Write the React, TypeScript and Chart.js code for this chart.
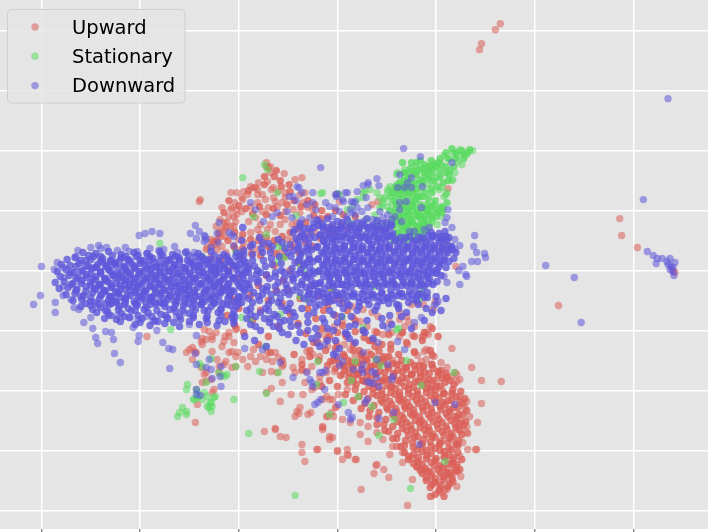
import React, { useEffect, useRef } from "react";
import { Chart, registerables } from "chart.js";

Chart.register(...registerables);

// ---------- series ----------
const SERIES_NAMES = ["Upward", "Stationary", "Downward"];
const SERIES_COLORS = ["#DB5F57", "#57DB5F", "#5F57DB"];
const X_GRID = [0, 100, 200, 300, 400, 500, 600];
const Y_GRID = [-240, -180, -120, -60, 0, 60, 120, 180, 240];
const X_LIMITS = [-42, 675.5];
const Y_LIMITS = [-258.6, 270.7];

// ---------- Upward ----------
const UP_CENTER_TOP: number[][] = [
  [161,71],[183,63],[192,78],[198,78],[205,79],[209,76],[212,84],[217,83],[220,88],[219,81],[224,76],[229,89],[230,103],[232,98],[246,97],[257,91],[264,93],[235,83],[240,79],[247,78],[237,69],[244,68],[247,73],[227,71],[219,68],[212,64],[203,73],[196,68],[192,61],[190,54],[198,56],[203,59],[197,49],[192,44],[185,48],[183,41],[180,36],[176,26],[168,23],[173,28],[182,34],[200,31],[205,28],[212,38],[219,41],[222,36],[229,41],[232,46],[237,39],[242,46],[247,51],[254,46],[259,48],[262,58],[265,68],[262,76],[267,78],[270,63],[275,61],[247,59],[255,61],[239,64],[230,63],[224,59],[217,53],[210,49],[222,46],[172,14],[178,21],[187,18],[197,21],[203,14],[212,24],[219,21],[225,26],[232,21],[239,28],[244,21],[249,31],[255,31],[262,34],[270,36],[277,39],[282,46],
  [228,104],[215,83],[219,76],[233,81],[235,73],[204,71],[193,63],[195,54],[198,61],[181,51],[177,44],[172,31],[172,24],[186,34],[186,41],[195,44],[232,104],[228,108],[160,69],[188,48],[187,44],[180,38],[175,29],[167,21],[172,11],[183,24],
  [335,66],[341,69],[412,82],[406,23],[410,29],[420,4],[299,76],[302,69],[295,44]
];
const UP_CENTER_FILL: number[][] = [
  [236,94],[242,90],[251,86],[226,94],[238,100],
  [200,65],[207,62],[214,57],[221,64],[228,56],[235,62],[242,55],[249,66],[256,70],[263,64],[270,70],[277,66],[284,60],[290,54],[283,52],[276,55],[268,48],[260,42],[252,38],[244,34],[236,30],[228,33],[220,30],[212,31],[204,36],[196,38],[189,30],[195,24],[204,22],[213,17],[222,15],[230,24],[238,17],[246,14],[254,24],[261,18],[268,28],[275,24],[283,32],[290,40],[297,36],[304,46],[311,42],[318,54],[298,60],[306,56],[252,79],[243,84],[226,86],[210,80],[190,70],[185,58],[178,30]
];
const UP_CENTER_BODY: number[][] = [
  [182,10],[190,0],[198,-8],[185,-18],[193,-28],[200,-38],[188,-45],[196,-55],[205,-62],[214,-50],[222,-40],[230,-30],[238,-20],[245,-10],[252,0],[260,8],[268,-5],[275,-15],[282,-25],[290,-35],[298,-45],[305,-55],[212,-25],[220,-15],[228,-5],[236,5],[244,-33],[252,-43],[260,-53],[268,-63],[276,-72],[284,-58],[292,-66],[300,-76],[308,-64],[316,-74],[324,-84],[262,-28],[270,-38],[278,-48],[286,-40],[294,-18],[302,-28],[310,-40],[318,-50],[326,-60],[334,-70],[342,-80],[250,-20],[240,-56],[230,-66],[220,-74],[232,-82],[244,-90],[256,-84],[264,-94],[272,-86],[288,-80],[296,-90],
  [306,-84],[314,-92],[322,-80],[330,-90],[338,-76],[346,-86],[354,-74],[362,-84],[370,-72],[378,-82],[386,-70],[394,-80],[402,-66],[396,-58],[388,-62],[378,-66],[366,-62],[352,-64],[340,-62],[332,-70],
  [300,-62],[309,-66],[318,-61],[327,-67],[336,-70],[345,-74],[354,-79],[280,-72],[289,-68],[298,-78],[307,-86],[316,-80],[325,-88],[334,-84],[343,-92],[352,-86],[272,-80],[281,-90],[290,-95],[299,-88],[308,-96],[317,-104],[326,-110],[284,-116],[292,-110],[300,-116],[308,-124],[316,-130],[324,-138],[332,-146],[340,-154],[348,-160],[356,-168],[364,-176]
];
const UP_LOWER_LEFT: number[][] = [
  [153,-77],[157,-82],[162,-71],[163,-68],[173,-69],[173,-81],[185,-71],[190,-66],[198,-58],[178,-89],[180,-96],[167,-102],[167,-111],[163,-112],[175,-119],[158,-134],[173,-122],[156,-152],[187,-91],[197,-96],[197,-86],[209,-96],[212,-86],[217,-91],[222,-86],[229,-82],[234,-91],[240,-87],[239,-102],[245,-94],[244,-112],[233,-118],[228,-122],[242,-131],[257,-102],[264,-100],[255,-97],[259,-141],[262,-137],[273,-142],[265,-124],[277,-117],[282,-112],[289,-126],[292,-129],[289,-146],[299,-136],[285,-157],[292,-166],[295,-167],[280,-179],[267,-191],[264,-182],[264,-174],[226,-161],[237,-158],[248,-167],[242,-166],[257,-146],
  [107,-66],[147,-82],[155,-81],[165,-59],[170,-61],[173,-66],[167,-69],[165,-104],[162,-97],[172,-109],[180,-102],[185,-94],[193,-97],[193,-81],[183,-76],[190,-62],[197,-59],
  [150,-79],[153,-89],[163,-74],[177,-62],[186,-66],[195,-72],[190,-82],[199,-82],[204,-89],[215,-79],[228,-89],[237,-82],[244,-96],[233,-101],[224,-102],[253,-124],[261,-143],[285,-156],[296,-146]
];
const UP_OUTLIERS: number[][] = [
  [237,-159],[279,-179],[285,-159],[300,-180],[311,-185],[310,-179],[319,-189],[324,-219],[339,-195],[337,-203],[347,-199],[352,-207],[371,-235],[394,-226],[405,-222],[409,-219],[421,-216],[425,-206],[440,-179],[431,-162],[403,-212],[396,-202],[387,-199],[415,-202],
  [586,52],[588,35],[604,23],[524,-35],[640,0],[642,-2],[465,247],[460,241],[446,227],[444,221]
];
const UP_CLUSTER_EDGE: number[][] = [
  [416,-78],[436,-97],[446,-110],[466,-111],[446,-133],[442,-152],[432,-163],[441,-179],[432,-179],[416,-206],[421,-197],[411,-219],[403,-221],[395,-226],[376,-209],[381,-197],[366,-192],[340,-194],[318,-189],[305,-189],[310,-184],[300,-181],[292,-169],[323,-164],[331,-171],[353,-184],[360,-176],[270,-144],[290,-146],[294,-142],[298,-137],[295,-129],[285,-129],[274,-119],[267,-112],[264,-99],[269,-101],[264,-89],[269,-81],[275,-84],[282,-86],[290,-76],[299,-72],[307,-74],[313,-79],[318,-86],[325,-84],[331,-82],[338,-86],[345,-89],[350,-87],[356,-90],[363,-94],[370,-99],[376,-104],[385,-91],[390,-89],[395,-94],[403,-102],[410,-106],[400,-112],[395,-116],[406,-119],[416,-122],[424,-126],[431,-131],[429,-137],[434,-146],[426,-151],[431,-156],[421,-159],[427,-172],[421,-174],[415,-166],[424,-186],[417,-189],[411,-199],[406,-206],[396,-211],[390,-201],[383,-192],[375,-187],[366,-182],[356,-176],[346,-169],[340,-162],[331,-156],[323,-152],[313,-152],[305,-149],[301,-124],[310,-119],[316,-112],[321,-104],[306,-104],[297,-101],[289,-102],[282,-106],[274,-96],[282,-64],[289,-61],[297,-56],[305,-51],[316,-47],[323,-51],[330,-56],[338,-61],[346,-64],[355,-62],[363,-66],[371,-74],[378,-81],[388,-81],[396,-84],[405,-92],[411,-97],[419,-102],[421,-111],[363,-49],[370,-46],[363,-42],[375,-34],[381,-32],[390,-62],[392,-64],[387,-66],[378,-56],[368,-56],[353,-52],[341,-46],[335,-42],[326,-39],[315,-36],[305,-32],[295,-29],
  [397,-39],[399,-31],[387,-34],[376,-65],[365,-62],[372,-51],[386,-66],[394,-56],[390,-79],[381,-85],[396,-85],[387,-96],[398,-86],[416,-106],[424,-109],[421,-104]
];
const UP_CLUSTER_CORE: number[][] = [
  [293,-91],[302,-93],[311,-90],[320,-92],[329,-89],[338,-94],[347,-91],[356,-93],[365,-90],[374,-92],[383,-95],
  [298,-98],[307,-100],[316,-97],[325,-99],[334,-96],[343,-101],[352,-98],[361,-100],[370,-97],[379,-99],[388,-102],[397,-98],[405,-100],
  [303,-105],[312,-107],[321,-104],[330,-106],[339,-103],[348,-108],[357,-105],[366,-107],[375,-104],[384,-106],[393,-109],[402,-105],[411,-107],
  [310,-112],[319,-114],[328,-111],[337,-113],[346,-110],[355,-115],[364,-112],[373,-114],[382,-111],[391,-113],[400,-116],[409,-112],[418,-114],
  [318,-119],[327,-121],[336,-118],[345,-120],[354,-117],[363,-122],[372,-119],[381,-121],[390,-118],[399,-120],[408,-123],[417,-119],[425,-121],
  [322,-126],[331,-128],[340,-125],[349,-127],[358,-124],[367,-129],[376,-126],[385,-128],[394,-125],[403,-127],[412,-130],[421,-126],[429,-128],
  [328,-133],[337,-135],[346,-132],[355,-134],[364,-131],[373,-136],[382,-133],[391,-135],[400,-132],[409,-134],[418,-137],[427,-133],
  [333,-140],[342,-142],[351,-139],[360,-141],[369,-138],[378,-143],[387,-140],[396,-142],[405,-139],[414,-141],[423,-144],[431,-140],
  [340,-147],[349,-149],[358,-146],[367,-148],[376,-145],[385,-150],[394,-147],[403,-149],[412,-146],[421,-148],[430,-151],
  [347,-154],[356,-156],[365,-153],[374,-155],[383,-152],[392,-157],[401,-154],[410,-156],[419,-153],[428,-155],
  [352,-161],[361,-163],[370,-160],[379,-162],[388,-159],[397,-164],[406,-161],[415,-163],[424,-160],
  [360,-168],[369,-170],[378,-167],[387,-169],[396,-166],[405,-171],[414,-168],[423,-170],
  [368,-175],[377,-177],[386,-174],[395,-176],[404,-173],[413,-178],[422,-175],
  [368,-182],[377,-184],[386,-181],[395,-183],[404,-180],[413,-185],[422,-182],
  [372,-189],[381,-191],[390,-188],[399,-190],[408,-187],[417,-192],[426,-189],
  [380,-196],[389,-198],[398,-195],[407,-197],[416,-194],[424,-199],
  [386,-203],[395,-205],[404,-202],[413,-204],[421,-201],
  [390,-210],[399,-212],[408,-209],[417,-211],
  [394,-217],[403,-219],[412,-216],
  [399,-224],[408,-226],
  [332,-116],[341,-117],[350,-115],[359,-118],[368,-116],[377,-117],[386,-115],[395,-118],[404,-116],
  [336,-123],[345,-124],[354,-122],[363,-125],[372,-123],[381,-124],[390,-122],[399,-125],[408,-123],[416,-124],
  [344,-130],[353,-131],[362,-129],[371,-132],[380,-130],[389,-131],[398,-129],[407,-132],[416,-130],[424,-131],
  [350,-137],[359,-138],[368,-136],[377,-139],[386,-137],[395,-138],[404,-136],[413,-139],[422,-137],
  [356,-144],[365,-145],[374,-143],[383,-146],[392,-144],[401,-145],[410,-143],[419,-146],[427,-144],
  [361,-151],[370,-152],[379,-150],[388,-153],[397,-151],[406,-152],[415,-150],[424,-153],
  [366,-158],[375,-159],[384,-157],[393,-160],[402,-158],[411,-159],[420,-157],
  [372,-165],[381,-166],[390,-164],[399,-167],[408,-165],[417,-166],[426,-164],
  [376,-172],[385,-173],[394,-171],[403,-174],[412,-172],[420,-173],
  [381,-179],[390,-180],[399,-178],[408,-181],[416,-179],
  [306,-95],[315,-96],[324,-94],[333,-97],[342,-95],[351,-96],[360,-94],[369,-97],[378,-95],[387,-96],[396,-94],
  [312,-102],[321,-103],[330,-101],[339,-104],[348,-102],[357,-103],[366,-101],[375,-104],[384,-102],[393,-103],[402,-101],[410,-103],
  [316,-109],[325,-110],[334,-108],[343,-111],[352,-109],[361,-110],[370,-108],[379,-111],[388,-109],[397,-110],[406,-108],[414,-110],
  [372,-186],[382,-187],[391,-185],[400,-188],[409,-186],[418,-187],
  [377,-193],[386,-194],[395,-192],[404,-195],[412,-193],[421,-194],
  [384,-200],[393,-201],[402,-199],[411,-202],[419,-200],
  [390,-207],[399,-208],[408,-206],[416,-208],
  [396,-214],[405,-215],[414,-213]
];

// ---------- Stationary ----------
const ST_UPPER: number[][] = [
  [417,118],[421,116],[424,121],[431,116],[437,120],[408,115],[414,111],[422,109],[426,106],[419,98],[416,90],[411,78],[408,74],[393,104],[390,103],[383,101],[380,104],[376,99],[371,98],[368,94],[364,89],[360,86],[356,81],[351,78],[348,73],[346,68],[343,63],[351,64],[355,68],[360,73],[365,76],[370,78],[375,81],[380,86],[383,91],[388,94],[393,96],[398,98],[401,93],[396,89],[391,86],[386,82],[381,78],[376,74],[373,69],[371,64],[370,58],[368,51],[365,46],[361,41],[366,43],[371,46],[376,44],[381,43],[386,44],[375,51],[406,83],[403,81],[410,76],[396,61],[400,61],[403,61],[393,58],[391,51],[396,49],[401,46],[405,54],[326,78],[328,79],[320,71],[315,64],[310,61],[333,81],[340,78],[343,73],[353,84],[361,98],[368,101],[373,96],[417,91],[387,41],[383,44],[378,96],[390,94],[396,96],[360,96],[363,88],[351,81],[347,71],[345,64],[338,56],[329,51],[324,44],[338,44],[351,44],[374,38],[367,34],[378,34],[350,46],[348,41],[343,44],[340,49],[300,77]
];
const ST_UPPER_FILL: number[][] = [
  [378,88],[385,90],[372,84],[367,80],[362,76],[358,70],[353,60],[358,58],[364,62],[369,70],[376,66],[381,60],[386,54],[391,66],[380,72],[386,74],[396,78],[392,72],[372,56],[362,50],[356,52],[399,70],[405,64],[411,68],[366,108],[375,108],[384,110],[395,110],[404,112],[410,104],[400,104],
  [356,78],[362,84],[368,90],[374,86],[380,82],[386,88],[392,92],[398,90],[404,94],[410,98],[404,100],[396,102],[388,98],[380,96],[372,92],[366,86],[360,80],[354,74],[360,66],[366,72],[372,76],[378,70],[384,66],[390,60],[370,64],[364,56],[376,60],[382,54],[388,48],[376,48],[370,42],[382,38],[394,56],[400,54],[406,58],[398,66],[412,90],[418,104],[412,112],[420,112],[428,112],[426,120],[432,118],[416,122],[410,118],[402,108],[395,105],[388,106],[380,108],
  [357,30],[363,33],[369,30],[375,33],[381,30],[387,33],[360,37],[366,40],[372,37],[378,40],[384,37],[390,40],[357,45],[363,48],[369,45],[375,48],[381,45],[387,48],[393,45],[360,52],[366,55],[372,52],[378,55],[384,52],[390,55],[396,52],
  [359,62],[365,66],[371,60],[377,64],[383,58],[389,62],[395,64],[401,58],[407,62],[413,96],[407,88],[401,84],[395,82],[389,78],[383,74],[377,78],[371,80],[365,82],[359,84],[368,98],[374,102],[380,100],[386,102],[392,100],[398,106],[405,106],[414,100],[420,118],[428,116],[434,121]
];
const ST_LOWER_LEFT: number[][] = [
  [148,-114],[147,-119],[157,-119],[165,-122],[158,-127],[155,-129],[163,-129],[171,-132],[173,-136],[168,-136],[172,-141],[175,-127],[143,-137],[140,-142],[138,-146],[147,-141],[147,-144],[160,-93],[163,-96],[180,-102],[183,-105],[188,-104],[195,-129],[197,-96],[210,-163],[221,-101],[228,-123],[240,-102],[257,-225],[131,-59],[167,-112],[172,-88],[186,-106],[170,-137],[172,-132],[168,-126],[176,-126],[159,-126],[154,-129],[158,-122]
];
const ST_SCATTER: number[][] = [
  [120,27],[204,93],[229,101],[226,106],[283,77],[258,55],[228,36],[239,78],[163,14],[240,24],[247,13],[262,6],
  [385,-115],[357,-149],[342,-165],[409,-191],[418,-102],[362,-58],[321,-126],[335,-136],[306,-132],[292,-144],[314,-110],[339,-89],[344,-95],[318,-91],[280,-91],[279,-114],[374,-218],[370,-90],
  [215,54],[242,14],[240,9],[245,24],[265,1],[280,-1],[292,-6],[309,-2],[338,-16],[262,-26],[269,-29],[295,-19],[227,-76],[212,-49],[285,78],[302,76],[313,48],[326,73],[197,18],[203,-47],[242,-44],[305,-46],[326,-57],[360,-59],[386,-21],[383,-29]
];

// ---------- Downward ----------
const DOWN_LEFT_EDGE: number[][] = [
  [0,4],[-1,-25],[-8,-34],[14,-32],[14,-42],[16,8],[13,1],[22,3],[23,-7],[22,-16],[22,-25],[30,-29],[33,-37],[35,14],[37,20],[38,-39],[43,-52],[50,-47],[52,-58],[55,-67],[57,-73],[65,-61],[71,-62],[73,-69],[74,-83],[80,-92],[68,-44],[77,-45],[90,-47],[93,-57],[98,-49],[99,-65],[106,-46],[113,-51],[117,-60],[123,-72],[129,-78],[133,-79],[130,-98],[127,-47],[137,-46],[145,-42],[150,-54],[157,-65],[156,-83],[98,-71],
  [50,23],[58,25],[66,23],[77,20],[89,19],[97,19],[99,35],[105,37],[112,39],[120,37],[107,17],[119,20],[124,21],[138,18],[147,19],[155,18],[151,37],[156,45],[160,39],[157,32],[165,29],[178,37],[180,48],[193,36],[204,43],[166,34],
  [60,22],[85,23],[110,22],[135,24],[172,23],[195,25]
];
const DOWN_LEFT_CORE: number[][] = [
  [42,18],[55,17],[68,19],[81,16],[94,18],[107,17],[120,19],[133,16],[146,18],[159,17],[172,19],[185,16],[198,18],
  [48,15],[60,14],[72,15],[85,14],[98,15],[110,14],[123,15],[136,14],[149,15],[162,14],[175,15],[188,14],[201,15],
  [26,11],[34,13],[45,10],[53,14],[62,12],[70,9],[81,13],[88,11],[96,14],[104,10],[113,12],[121,15],[130,11],[139,13],[148,10],[156,14],[164,12],[172,9],[181,13],[189,11],[197,14],[205,10],
  [20,6],[29,5],[38,7],[48,4],[57,6],[66,5],[74,7],[84,4],[92,6],[100,7],[109,5],[117,4],[126,7],[135,6],[143,3],[152,6],[160,5],[169,7],[177,4],[186,6],[194,5],[202,7],[210,4],
  [16,-1],[25,1],[33,-2],[42,0],[51,2],[60,-1],[68,1],[77,-2],[86,0],[95,2],[103,-1],[111,1],[120,-2],[129,0],[137,2],[146,-1],[155,1],[163,-2],[172,0],[180,2],[189,-1],[198,1],[207,-2],
  [19,-6],[28,-5],[37,-7],[46,-4],[55,-6],[64,-8],[72,-5],[81,-7],[90,-4],[98,-6],[107,-8],[116,-5],[124,-7],[133,-4],[142,-6],[150,-8],[159,-5],[168,-7],[176,-4],[185,-6],[194,-8],[203,-5],
  [14,-12],[23,-11],[32,-13],[41,-10],[50,-12],[59,-14],[67,-11],[76,-13],[85,-10],[94,-12],[102,-14],[111,-11],[119,-13],[128,-10],[137,-12],[146,-14],[154,-11],[163,-13],[171,-10],[180,-12],[189,-14],[198,-11],[208,-13],
  [18,-18],[27,-17],[36,-19],[45,-16],[54,-18],[63,-20],[71,-17],[80,-19],[89,-16],[97,-18],[106,-20],[115,-17],[123,-19],[132,-16],[141,-18],[149,-20],[158,-17],[167,-19],[175,-16],[184,-18],[193,-20],[202,-17],
  [25,-24],[34,-23],[43,-25],[52,-22],[61,-24],[69,-26],[78,-23],[87,-25],[95,-22],[104,-24],[113,-26],[121,-23],[130,-25],[139,-22],[147,-24],[156,-26],[165,-23],[173,-25],[182,-22],[191,-24],[200,-26],
  [32,-30],[41,-29],[50,-31],[59,-28],[68,-30],[76,-32],[85,-29],[94,-31],[102,-28],[111,-30],[120,-32],[128,-29],[137,-31],[146,-28],[154,-30],[163,-32],[171,-29],[180,-31],[189,-28],[198,-30],
  [45,-33],[58,-34],[71,-33],[84,-34],[97,-33],[110,-34],[123,-33],[136,-34],[149,-33],[162,-34],[175,-33],[188,-34],[200,-33],
  [40,-36],[50,-35],[60,-37],[69,-34],[79,-36],[88,-38],[97,-35],[106,-37],[116,-34],[125,-36],[134,-38],[144,-35],[153,-37],[162,-34],[172,-36],[182,-38],[192,-35],
  [52,-39],[65,-40],[78,-39],[91,-40],[104,-39],[117,-40],[130,-39],[143,-40],[156,-39],[169,-40],[182,-39],[195,-40],
  [56,-42],[67,-41],[81,-43],[95,-40],[108,-42],[121,-44],[136,-41],[150,-43],[165,-40],[179,-42],[194,-44],
  [70,-45],[84,-46],[98,-45],[112,-46],[126,-45],[140,-46],[154,-45],[168,-46],[182,-45],[196,-46],
  [64,-48],[76,-49],[89,-47],[102,-48],[115,-50],[128,-48],[141,-49],[154,-47],[167,-48],[180,-50],[193,-47],
  [80,-51],[100,-52],[118,-51],[134,-52],[150,-51],[168,-52],[186,-51],
  [95,-54],[110,-55],[125,-53],[140,-56],[160,-54],[178,-55],[195,-53],
  [62,9],[75,8],[88,10],[101,9],[114,8],[127,10],[140,9],[153,8],[166,10],[179,9],[192,8],
  [55,3],[68,2],[81,4],[94,3],[107,2],[120,4],[133,3],[146,2],[159,4],[172,3],[185,2],[198,4],
  [60,-3],[73,-4],[86,-2],[99,-3],[112,-4],[125,-2],[138,-3],[151,-4],[164,-2],[177,-3],[190,-4],
  [52,-9],[65,-10],[78,-8],[91,-9],[104,-10],[117,-8],[130,-9],[143,-10],[156,-8],[169,-9],[182,-10],[195,-8],
  [58,-15],[71,-16],[84,-14],[97,-15],[110,-16],[123,-14],[136,-15],[149,-16],[162,-14],[175,-15],[188,-16],
  [64,-21],[77,-22],[90,-20],[103,-21],[116,-22],[129,-20],[142,-21],[155,-22],[168,-20],[181,-21],
  [72,-27],[85,-28],[98,-26],[111,-27],[124,-28],[137,-26],[150,-27],[163,-28],[176,-26]
];
const DOWN_LEFT_FILL: number[][] = [
  [40,10],[50,11],[60,9],[70,10],[80,11],[90,9],[100,10],[110,11],[120,9],[130,10],[140,11],[150,9],[160,10],[170,11],[180,9],[190,10],[200,11],
  [35,4],[45,5],[55,3],[65,4],[75,5],[85,3],[95,4],[105,5],[115,3],[125,4],[135,5],[145,3],[155,4],[165,5],[175,3],[185,4],[195,5],[205,3],
  [30,-2],[40,-1],[50,-3],[60,-2],[70,-1],[80,-3],[90,-2],[100,-1],[110,-3],[120,-2],[130,-1],[140,-3],[150,-2],[160,-1],[170,-3],[180,-2],[190,-1],[200,-3],
  [35,-8],[45,-7],[55,-9],[65,-8],[75,-7],[85,-9],[95,-8],[105,-7],[115,-9],[125,-8],[135,-7],[145,-9],[155,-8],[165,-7],[175,-9],[185,-8],[195,-7],[205,-9],
  [30,-14],[40,-13],[50,-15],[60,-14],[70,-13],[80,-15],[90,-14],[100,-13],[110,-15],[120,-14],[130,-13],[140,-15],[150,-14],[160,-13],[170,-15],[180,-14],[190,-13],[200,-15],
  [35,-20],[45,-21],[55,-19],[65,-20],[75,-21],[85,-19],[95,-20],[105,-21],[115,-19],[125,-20],[135,-21],[145,-19],[155,-20],[165,-21],[175,-19],[185,-20],[195,-21],[205,-19],
  [40,-26],[50,-27],[60,-25],[70,-26],[80,-27],[90,-25],[100,-26],[110,-27],[120,-25],[130,-26],[140,-27],[150,-25],[160,-26],[170,-27],[180,-25],[190,-26],[200,-27],
  [55,-32],[65,-33],[75,-31],[85,-32],[95,-33],[105,-31],[115,-32],[125,-33],[135,-31],[145,-32],[155,-33],[165,-31],[175,-32],[185,-33],[195,-31],
  [214,26],[224,28],[234,24],[244,28],[210,-2],[219,0],[228,-4],[237,-6],[246,-2],[255,-8],[210,-14],[219,-12],[228,-20],[237,-16],[246,-22],[255,-20],[210,-28],[220,-26],[230,-34],[240,-32],[250,-38],[212,-44],[222,-42],[232,-48],[242,-52],[252,-50]
];
const DOWN_CENTER_CORE: number[][] = [
  [280,50],[290,52],[300,49],[310,51],[320,48],[330,52],[340,50],[350,48],
  [285,47],[295,46],[305,48],[315,46],[325,47],[335,45],[345,47],[355,46],
  [262,44],[271,42],[281,45],[290,43],[299,41],[308,44],[318,42],[327,45],[336,43],[345,41],[354,44],
  [255,38],[264,37],[273,39],[283,36],[292,38],[301,40],[310,37],[320,39],[329,36],[338,38],[347,40],[356,37],[395,38],[403,37],[409,39],
  [258,32],[267,31],[277,33],[286,30],[295,32],[304,34],[314,31],[323,33],[332,30],[341,32],[350,34],[359,31],[369,33],[378,30],[387,32],[396,34],[405,31],[413,33],
  [252,26],[261,25],[271,27],[280,24],[289,26],[298,28],[307,25],[317,27],[326,24],[335,26],[344,28],[353,25],[363,27],[372,24],[381,26],[390,28],[399,25],[408,27],[416,24],
  [256,20],[265,19],[274,21],[284,18],[293,20],[302,22],[311,19],[321,21],[330,18],[339,20],[348,22],[357,19],[367,21],[376,18],[385,20],[394,22],[403,19],[412,21],[420,18],
  [253,14],[262,13],[271,15],[281,12],[290,14],[299,16],[308,13],[318,15],[327,12],[336,14],[345,16],[354,13],[364,15],[373,12],[382,14],[391,16],[400,13],[409,15],[418,12],
  [257,8],[266,7],[275,9],[285,6],[294,8],[303,10],[312,7],[322,9],[331,6],[340,8],[349,10],[358,7],[368,9],[377,6],[386,8],[395,10],[404,7],[413,9],
  [254,2],[263,1],[272,3],[282,0],[291,2],[300,4],[309,1],[319,3],[328,0],[337,2],[346,4],[355,1],[365,3],[374,0],[383,2],[392,4],[401,1],[410,3],
  [258,-4],[267,-5],[276,-3],[286,-6],[295,-4],[304,-2],[313,-5],[323,-3],[332,-6],[341,-4],[350,-2],[359,-5],[369,-3],[378,-6],[387,-4],[396,-2],[405,-5],
  [255,-10],[264,-11],[273,-9],[283,-12],[292,-10],[301,-8],[310,-11],[320,-9],[329,-12],[338,-10],[347,-8],[356,-11],[366,-9],[375,-12],[384,-10],[393,-8],[401,-11],
  [259,-16],[268,-17],[277,-15],[287,-18],[296,-16],[305,-14],[314,-17],[324,-15],[333,-18],[342,-16],[351,-14],[360,-17],[370,-15],[379,-18],[388,-16],[397,-14],
  [262,-22],[271,-23],[280,-21],[290,-24],[299,-22],[308,-20],[317,-23],[327,-21],[336,-24],[345,-22],[354,-20],[363,-23],[373,-21],[382,-24],[391,-22],
  [266,-28],[276,-29],[286,-27],[296,-30],[306,-28],[316,-26],[326,-29],[336,-27],[346,-30],[356,-28],[366,-26],[377,-29],[388,-27],
  [270,-25],[280,-26],[291,-27],[301,-25],[311,-26],[321,-27],[331,-25],[341,-26],[351,-27],[361,-25],[371,-26],[381,-25],[391,-27],
  [272,-32],[282,-34],[292,-31],[302,-33],[312,-35],[322,-32],[332,-34],[342,-31],[352,-33],[362,-35],[372,-32],[382,-34],
  [286,41],[295,40],[304,42],[313,41],[322,40],[331,42],[340,41],[349,40],
  [289,35],[298,34],[307,36],[316,35],[325,34],[334,36],[343,35],[352,34],[397,35],[406,34],
  [286,29],[295,28],[304,30],[313,29],[322,28],[331,30],[340,29],[349,28],[358,30],[367,29],[376,28],[385,30],[394,29],[403,28],[411,30],
  [289,23],[298,22],[307,24],[316,23],[325,22],[334,24],[343,23],[352,22],[361,24],[370,23],[379,22],[388,24],[397,23],[406,22],[414,24],
  [286,17],[295,16],[304,18],[313,17],[322,16],[331,18],[340,17],[349,16],[358,18],[367,17],[376,16],[385,18],[394,17],[403,16],[412,18],
  [289,11],[298,10],[307,12],[316,11],[325,10],[334,12],[343,11],[352,10],[361,12],[370,11],[379,10],[388,12],[397,11],[406,10],
  [286,5],[295,4],[304,6],[313,5],[322,4],[331,6],[340,5],[349,4],[358,6],[367,5],[376,4],[385,6],[394,5],[403,4],
  [289,-1],[298,-2],[307,0],[316,-1],[325,-2],[334,0],[343,-1],[352,-2],[361,0],[370,-1],[379,-2],[388,0],[397,-1],
  [292,-7],[301,-8],[310,-6],[319,-7],[328,-8],[337,-6],[346,-7],[355,-8],[364,-6],[373,-7],[382,-8],[391,-6],
  [295,-13],[304,-14],[313,-12],[322,-13],[331,-14],[340,-12],[349,-13],[358,-14],[367,-12],[376,-13],[385,-14],
  [257,41],[266,35],[260,29],[269,23],[263,17],[272,11],[266,5],[275,-1],[269,-7],[278,-13],[272,-19],[281,-21],[262,47],[276,47],
  [266,42],[276,43],[285,44],[294,42],[303,43],[313,44],[322,42],[331,43],[341,44],[350,42],
  [263,34],[272,33],[282,35],[291,33],[300,34],[309,33],[319,35],[328,33],[337,34],[346,33],[355,35],[364,33],[373,34],[382,33],[392,35],[401,33],[410,34],
  [260,22],[270,21],[279,23],[288,21],[297,22],[306,21],[316,23],[325,21],[334,22],[343,21],[352,23],[362,21],[371,22],[380,21],[389,23],[398,21],[407,22],[416,21],
  [261,10],[270,9],[280,11],[289,9],[298,10],[307,9],[317,11],[326,9],[335,10],[344,9],[353,11],[363,9],[372,10],[381,9],[390,11],[399,9],[408,10],
  [262,-2],[271,-3],[281,-1],[290,-3],[299,-2],[308,-3],[318,-1],[327,-3],[336,-2],[345,-3],[354,-1],[364,-3],[373,-2],[382,-3],[391,-1],[400,-3],
  [264,-14],[273,-15],[282,-13],[291,-15],[300,-14],[310,-15],[319,-13],[328,-15],[337,-14],[346,-15],[356,-13],[365,-15],[374,-14],[383,-15],[392,-13],
  [275,-24],[285,-23],[295,-24],[305,-23],[315,-24],[325,-23],[335,-24],[345,-23],[355,-24],[365,-23],[375,-24],[385,-23]
];
const DOWN_CENTER_MID: number[][] = [
  [203,30],[212,24],[221,33],[230,27],[240,31],[247,22],[205,16],[214,10],[224,18],[233,12],[243,7],[209,2],[218,-4],[227,4],[237,-2],[246,-8],[202,-12],[211,-18],[220,-10],[229,-16],[239,-22],[248,-14],[205,-26],[214,-32],[224,-24],[233,-30],[243,-36],[252,-33],[208,-40],[217,-46],[227,-38],[236,-44],[246,-50],[255,-42],[212,-54],[222,-60],[231,-52],[241,-58],[250,-64],[260,-55],[264,-38],[270,-45],[278,-36],[285,-48],[292,-40],[300,-52],[306,-38],[314,-46],[322,-36],[330,-50],[338,-40],[346,-55],[353,-45],[362,-38],[270,-60],[280,-65],[290,-58],[298,-70],[308,-62],[318,-72],[326,-60],[336,-68],[282,-76],[296,-84],[216,-70],[228,-76],[206,-66],[195,-50],[198,-36],[190,-20],
  [300,-25],[310,-33],[320,-40],[330,-30],[340,-36],[350,-28],[360,-34],[370,-42],[380,-30],[390,-38],[400,-26],[345,-48],[355,-54],[365,-46],[375,-58],[388,-50],[396,-42],[405,-40],[410,-28],[318,-54],[328,-62],[310,-64],[296,-44],[288,-32],[276,-42],
  [205,20],[214,16],[223,22],[232,18],[241,14],[250,18],[207,8],[216,4],[225,10],[234,6],[243,0],[252,-4],[204,-4],[213,-8],[222,-2],[231,-8],[240,-12],[249,-18],[206,-20],[215,-22],[224,-18],[233,-24],[242,-28],[251,-24],[203,-32],[212,-38],[221,-30],[230,-40],[239,-46],[248,-40],[257,-46],[208,-48],[217,-56],[226,-48],[235,-56],[244,-62],[253,-56],[262,-62],[270,-52],[278,-58],[287,-52],[296,-60],[304,-46],[312,-56],[258,-70],[266,-74],[274,-68],[290,-70],[302,-78],[312,-68]
];
const DOWN_CENTER_UPPER: number[][] = [
  [367,122],[384,114],[283,103],[326,85],[340,92],[331,86],[320,79],[310,78],[298,76],[261,83],[264,78],[275,78],[251,74],[278,61],[292,64],[305,71],[314,69],[329,73],[375,83],[385,63],[416,108],[412,61],[411,53],[409,48],[416,43],[439,35],[419,31],[424,25],[419,21],[438,24],[441,18],[449,17],[450,13],[436,9],[442,9],[427,4],[423,0],[431,-6],[424,-14],[408,-6],[411,-12],[401,-2],[396,-12],[388,-14],[390,-7],[430,-4],
  [363,96],[361,83],[368,83],[363,68],[363,61],[370,69],[358,54],[365,49],[373,39],[378,39],[385,34],[388,41],[393,43],[386,84],[371,88],[375,93],[331,88],[342,85],[308,78],[300,77],[298,63],[306,69],[316,68],[325,59],[331,63],[346,53],[351,56],[343,59],[355,51],[336,51],[326,49],[318,56],[313,61],
  [259,84],[255,74],[258,70],[269,66],[275,68],[288,68],[212,68],[204,43],[165,35],[167,31],[190,38],[179,28],[195,34],[217,61],[225,49],[234,54],[239,58],[249,59],[254,53],[264,51],[272,53],[279,51],[295,54],[302,59],[309,54],[315,58],[299,74],[318,69],[320,63]
];
const DOWN_LOWER: number[][] = [
  [157,-94],[157,-124],[161,-125],[157,-119],[182,-96],[181,-106],[182,-116],[173,-108],[170,-89],[172,-99],[167,-97],[206,-78],[224,-79],[242,-92],[255,-107],[269,-102],[274,-112],[280,-132],[283,-129],[287,-119],[282,-102],[301,-134],[315,-147],[311,-142],[326,-102],[338,-102],[333,-112],[342,-116],[357,-142],[383,-174],[399,-132],[419,-134],[342,-148],[330,-129],[328,-132],[313,-149],[277,-134],[275,-116],[272,-109],[285,-102],[288,-100],[335,-101],[340,-107],[355,-109],[356,-106],[336,-113],[330,-111],[351,-94],[340,-89],[326,-82],[326,-94],[324,-99],[316,-99],[302,-95],[305,-91],[300,-86],[298,-82],[287,-74],[279,-72],[368,-79],[361,-71],[351,-58],[341,-72],[378,-52],[385,-47],[400,-33],[402,-31],[398,-35]
];
const DOWN_OUTLIERS: number[][] = [
  [511,5],[540,-7],[547,-52],[610,71],[635,172],[614,19],[620,15],[624,12],[623,7],[629,12],[634,9],[637,12],[635,6],[638,4],[640,3],[640,-1],[641,-5],[637,1],[642,8]
];

// groups: [points, dense?] — dense groups stand in for heavy over-plotting
const SERIES_GROUPS: [number[][], boolean][][] = [
  [[UP_CENTER_BODY, true], [UP_CENTER_TOP, false], [UP_CENTER_FILL, true], [UP_LOWER_LEFT, false], [UP_CLUSTER_EDGE, false], [UP_CLUSTER_CORE, true], [UP_OUTLIERS, false]],
  [[ST_UPPER, false], [ST_UPPER_FILL, true], [ST_LOWER_LEFT, false], [ST_SCATTER, false]],
  [[DOWN_LEFT_EDGE, false], [DOWN_LEFT_CORE, true], [DOWN_LEFT_FILL, true], [DOWN_CENTER_MID, true], [DOWN_CENTER_CORE, true], [DOWN_CENTER_UPPER, false], [DOWN_LOWER, false], [DOWN_OUTLIERS, false]],
];

function withAlpha(hex: string, a: number): string {
  const r = parseInt(hex.slice(1, 3), 16);
  const g = parseInt(hex.slice(3, 5), 16);
  const b = parseInt(hex.slice(5, 7), 16);
  return `rgba(${r},${g},${b},${a})`;
}

const ALPHA = 0.55;
const DENSE_ALPHA = 0.8;
const RADIUS = 3.7;

const backgroundPlugin = {
  id: "panelBackground",
  beforeDraw(chart: any) {
    const { ctx, chartArea } = chart;
    ctx.save();
    ctx.fillStyle = "#E5E5E5";
    ctx.fillRect(chartArea.left, chartArea.top, chartArea.right - chartArea.left, chartArea.bottom - chartArea.top);
    ctx.restore();
  },
};

const legendPlugin = {
  id: "insetLegend",
  afterDraw(chart: any) {
    const { ctx } = chart;
    ctx.save();
    const x0 = 7.5, y0 = 9.5, w = 177.5, h = 93.5, r = 4;
    ctx.beginPath();
    ctx.moveTo(x0 + r, y0);
    ctx.lineTo(x0 + w - r, y0);
    ctx.quadraticCurveTo(x0 + w, y0, x0 + w, y0 + r);
    ctx.lineTo(x0 + w, y0 + h - r);
    ctx.quadraticCurveTo(x0 + w, y0 + h, x0 + w - r, y0 + h);
    ctx.lineTo(x0 + r, y0 + h);
    ctx.quadraticCurveTo(x0, y0 + h, x0, y0 + h - r);
    ctx.lineTo(x0, y0 + r);
    ctx.quadraticCurveTo(x0, y0, x0 + r, y0);
    ctx.closePath();
    ctx.fillStyle = "rgba(229,229,229,0.85)";
    ctx.fill();
    ctx.strokeStyle = "rgba(204,204,204,0.9)";
    ctx.lineWidth = 1;
    ctx.stroke();
    ctx.font = '19.5px "DejaVu Sans"';
    ctx.textBaseline = "alphabetic";
    ctx.textAlign = "left";
    chart.data.datasets.forEach((ds: any, i: number) => {
      const cy = 27 + i * 29.3;
      ctx.beginPath();
      ctx.arc(35, cy, RADIUS, 0, Math.PI * 2);
      ctx.fillStyle = withAlpha(SERIES_COLORS[i], ALPHA);
      ctx.fill();
      ctx.fillStyle = "#000000";
      ctx.fillText(ds.label, 72, cy + 6.6);
    });
    ctx.restore();
  },
};

export default function App() {
  const canvasRef = useRef<HTMLCanvasElement | null>(null);

  useEffect(() => {
    const canvas = canvasRef.current;
    if (!canvas) return;
    const datasets = SERIES_NAMES.map((name, i) => {
      const pts: { x: number; y: number }[] = [];
      const colors: string[] = [];
      SERIES_GROUPS[i].forEach(([group, dense]) => {
        group.forEach(([x, y]) => {
          pts.push({ x, y });
          colors.push(withAlpha(SERIES_COLORS[i], dense ? DENSE_ALPHA : ALPHA));
        });
      });
      return {
        label: name,
        data: pts,
        backgroundColor: colors,
        borderWidth: 0,
        pointRadius: RADIUS,
        pointHoverRadius: RADIUS,
        order: 3 - i,
      };
    });
    const chart = new Chart(canvas, {
      type: "scatter",
      data: { datasets },
      options: {
        animation: false,
        responsive: false,
        events: [],
        layout: { padding: 0, autoPadding: false },
        plugins: {
          legend: { display: false },
          tooltip: { enabled: false },
          title: { display: false },
        },
        scales: {
          x: {
            type: "linear",
            min: X_LIMITS[0],
            max: X_LIMITS[1],
            afterBuildTicks: (scale: any) => {
              scale.ticks = X_GRID.map((v) => ({ value: v }));
            },
            ticks: { display: false },
            border: { display: false },
            grid: {
              color: "#FFFFFF",
              lineWidth: 1.5,
              drawTicks: true,
              tickLength: 3,
              tickColor: "#555555",
              tickWidth: 1,
            },
          },
          y: {
            type: "linear",
            min: Y_LIMITS[0],
            max: Y_LIMITS[1],
            afterBuildTicks: (scale: any) => {
              scale.ticks = Y_GRID.map((v) => ({ value: v }));
            },
            ticks: { display: false },
            border: { display: false },
            grid: { color: "#FFFFFF", lineWidth: 1.5, drawTicks: false },
          },
        },
      },
      plugins: [backgroundPlugin, legendPlugin],
    });
    return () => chart.destroy();
  }, []);

  return (
    <div style={{ position: "fixed", left: 0, top: 0, width: 708, height: 532, background: "#FFFFFF" }}>
      <canvas ref={canvasRef} width={708} height={532} style={{ width: 708, height: 532, display: "block" }} />
    </div>
  );
}
